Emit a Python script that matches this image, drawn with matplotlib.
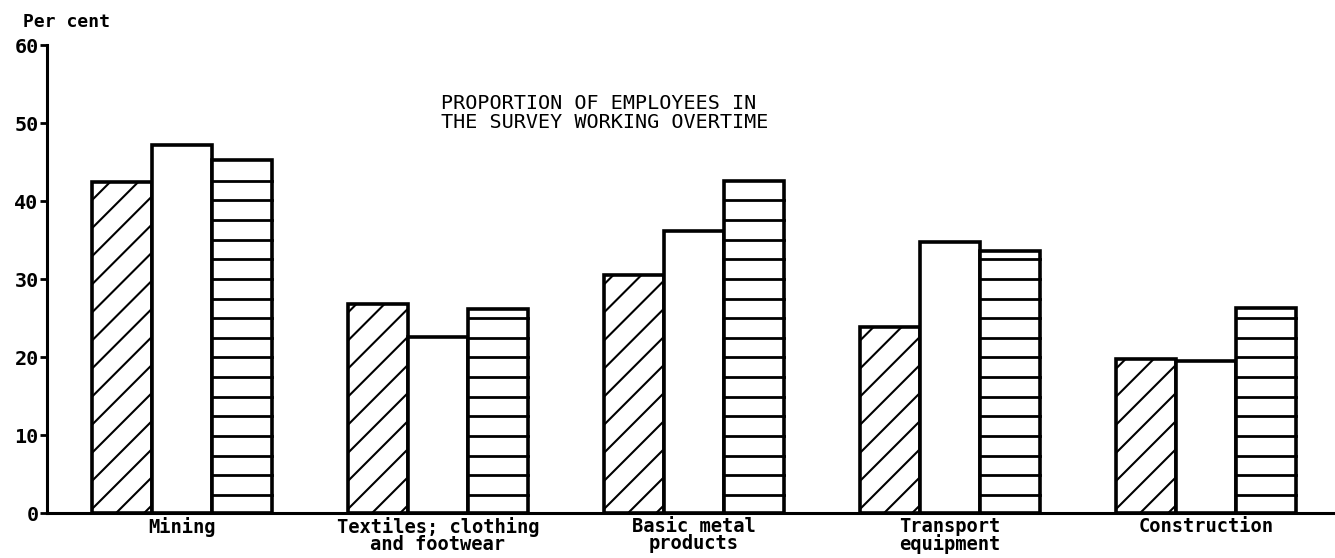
import numpy as np
import matplotlib
matplotlib.use("Agg")
from matplotlib import pyplot as plt

categories = ["Mining", "Textiles; clothing\nand footwear", "Basic metal\nproducts",
              "Transport\nequipment", "Construction"]
series_diag = [42.5, 26.8, 30.5, 23.9, 19.8]    # hatched bars
series_plain = [47.2, 22.6, 36.1, 34.8, 19.5]   # open bars
series_horiz = [45.3, 26.1, 42.6, 33.6, 26.3]   # horizontally ruled bars
yticks = [0, 10, 20, 30, 40, 50, 60]

mono = "DejaVu Sans Mono"
plt.rcParams["font.family"] = mono

fig = plt.figure(figsize=(13.35, 5.58), dpi=100)
ax = fig.add_axes([0.0352, 0.0806, 0.9648, 0.8387])

x = np.arange(len(categories))
w = 0.234
ax.set_xlim(-0.527, 4.504)
ax.set_ylim(0, 60)

lw = 2.6
bars_d = ax.bar(x - w, series_diag, w, facecolor="white", edgecolor="black", linewidth=lw, zorder=3)
bars_p = ax.bar(x, series_plain, w, facecolor="white", edgecolor="black", linewidth=lw, zorder=3)
bars_h = ax.bar(x + w, series_horiz, w, facecolor="white", edgecolor="black", linewidth=lw, zorder=3)

# slope for 45 degree lines on screen, in data units
p0 = ax.transData.transform((0, 0))
p1 = ax.transData.transform((1, 1))
k = (p1[0] - p0[0]) / (p1[1] - p0[1])

# diagonal hatching
for b in bars_d:
    x0 = b.get_x()
    h = b.get_height()
    step = 3.6
    off = -k * b.get_width() + 1.0
    while off < h + step:
        xs = np.array([x0, x0 + b.get_width()])
        ys = off + k * (xs - x0)
        ln, = ax.plot(xs, ys, color="black", linewidth=1.5, zorder=4)
        ln.set_clip_path(b)
        off += step

# horizontal rules
for b in bars_h:
    x0 = b.get_x()
    h = b.get_height()
    yy = 2.3
    while yy < h - 0.8:
        ax.plot([x0, x0 + b.get_width()], [yy, yy], color="black", linewidth=2.0, zorder=4)
        yy += 2.52

ax.spines["top"].set_visible(False)
ax.spines["right"].set_visible(False)
ax.spines["left"].set_linewidth(2.2)
ax.spines["bottom"].set_linewidth(2.2)

ax.set_yticks(yticks)
ax.set_yticklabels([str(t) for t in yticks], fontsize=14.5, fontweight="bold")
ax.tick_params(axis="y", length=5, width=2, pad=1)
ax.set_xticks(x)
ax.set_xticklabels(categories, fontsize=13.5, fontweight="bold", linespacing=0.85)
ax.tick_params(axis="x", length=0, pad=3)

fig.text(0.017, 0.96, "Per cent", fontsize=13, fontweight="bold", va="center", ha="left")

ax.text(0.33, 0.832, "PROPORTION OF EMPLOYEES IN\nTHE SURVEY WORKING OVERTIME",
        transform=fig.transFigure, fontsize=14.5, ha="left", va="top", linespacing=1.05)

fig.savefig("out.png", dpi=100)
